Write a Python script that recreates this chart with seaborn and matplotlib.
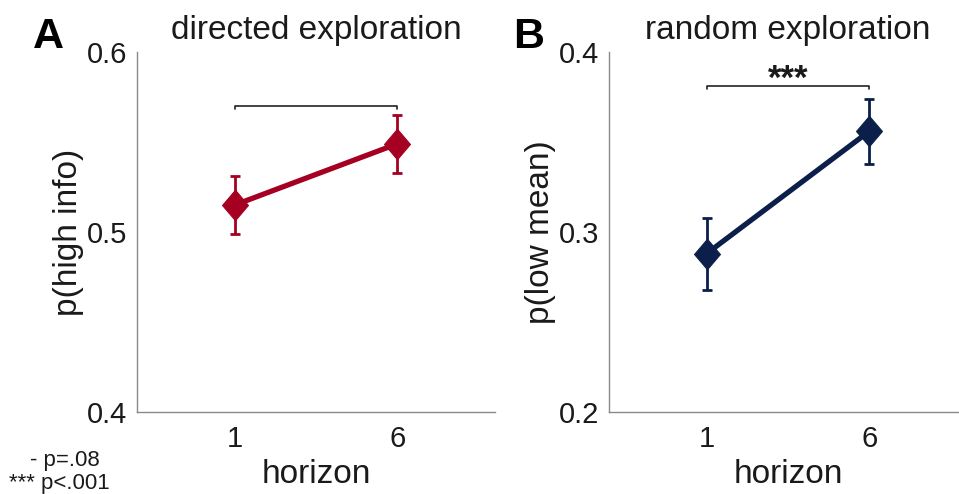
import numpy as np
import pandas as pd
import matplotlib
matplotlib.use("Agg")
import matplotlib.pyplot as plt
import seaborn as sns

# ---- data ----
horizon = [1, 6]
directed_mean = [0.515, 0.549]
directed_err = [0.016, 0.016]
random_mean = [0.288, 0.356]
random_err = [0.020, 0.018]
directed_sig_y = 0.570
random_sig_y = 0.381
directed_sig_label = ""
random_sig_label = "***"
panel_titles = ["directed exploration", "random exploration"]
panel_letters = ["A", "B"]
ylabels = ["p(high info)", "p(low mean)"]
yticks_A = [0.4, 0.5, 0.6]
yticks_B = [0.2, 0.3, 0.4]
legend_lines = ["- p=.08", "*** p<.001"]

sns.set_theme(style="white")
plt.rcParams['font.family'] = ['Liberation Sans', 'DejaVu Sans']

W, H = 959, 494
fig = plt.figure(figsize=(W/100, H/100), dpi=100)

def ax_rect(l, r, t, b):
    return [l/W, 1-b/H, (r-l)/W, (b-t)/H]

axA = fig.add_axes(ax_rect(137, 495, 52, 412))
axB = fig.add_axes(ax_rect(609, 967, 52, 412))

diamond = [(0, 1), (0.85, 0), (0, -1), (-0.85, 0), (0, 1)]
gray = "#8a8a8a"
txt = "#1a1a1a"

panels = [
    (axA, directed_mean, directed_err, "#a50021", yticks_A, directed_sig_y, directed_sig_label),
    (axB, random_mean, random_err, "#0c1f4a", yticks_B, random_sig_y, random_sig_label),
]

for i, (ax, mean, err, col, yt, sig_y, sig_lab) in enumerate(panels):
    df = pd.DataFrame({"horizon": horizon, "p": mean})
    ax.errorbar(horizon, mean, yerr=err, fmt="none", ecolor=col, elinewidth=2,
                capsize=3.5, capthick=2, zorder=2)
    sns.lineplot(data=df, x="horizon", y="p", ax=ax, color=col, linewidth=3.8,
                 marker=diamond, markersize=22, markeredgecolor=col,
                 markerfacecolor=col, zorder=3)
    ax.set_xlim(-2, 9)
    ax.set_ylim(yt[0], yt[-1])
    ax.set_xticks(horizon)
    ax.set_xticklabels([str(h) for h in horizon])
    ax.set_yticks(yt)
    ax.set_yticklabels([f"{v:.1f}" for v in yt])
    for s in ["top", "right"]:
        ax.spines[s].set_visible(False)
    for s in ["left", "bottom"]:
        ax.spines[s].set_color(gray)
        ax.spines[s].set_linewidth(1.0)
    ax.tick_params(direction="in", length=3, width=0.8, color=gray,
                   labelsize=21, labelcolor=txt, pad=7)
    ax.tick_params(axis="x", pad=9)
    ax.set_xlabel("horizon", fontsize=24, color=txt, labelpad=5)
    ax.set_ylabel(ylabels[i], fontsize=24, color=txt, labelpad=2)
    ax.set_title(panel_titles[i], fontsize=24, color=txt, pad=9)
    d = (yt[-1] - yt[0]) * 0.008
    ax.plot([horizon[0], horizon[0], horizon[1], horizon[1]],
            [sig_y - d, sig_y, sig_y, sig_y - d], color="#222222", lw=1.2,
            clip_on=False)
    if sig_lab:
        ax.text(np.mean(horizon), sig_y - (yt[-1]-yt[0])*0.007, sig_lab,
                ha="center", va="baseline", fontsize=25, fontweight="bold",
                color=txt)
    ax.patch.set_alpha(0)

fig.text(33/W, 1-48/H, panel_letters[0], fontsize=31, fontweight="bold",
         color="black", va="baseline", ha="left")
fig.text(513/W, 1-48/H, panel_letters[1], fontsize=31, fontweight="bold",
         color="black", va="baseline", ha="left")

fig.text(100/W, 1-460/H, legend_lines[0], fontsize=16, color=txt, ha="right", va="center")
fig.text(110/W, 1-483/H, legend_lines[1], fontsize=16, color=txt, ha="right", va="center")

fig.savefig("out.png", dpi=100)
